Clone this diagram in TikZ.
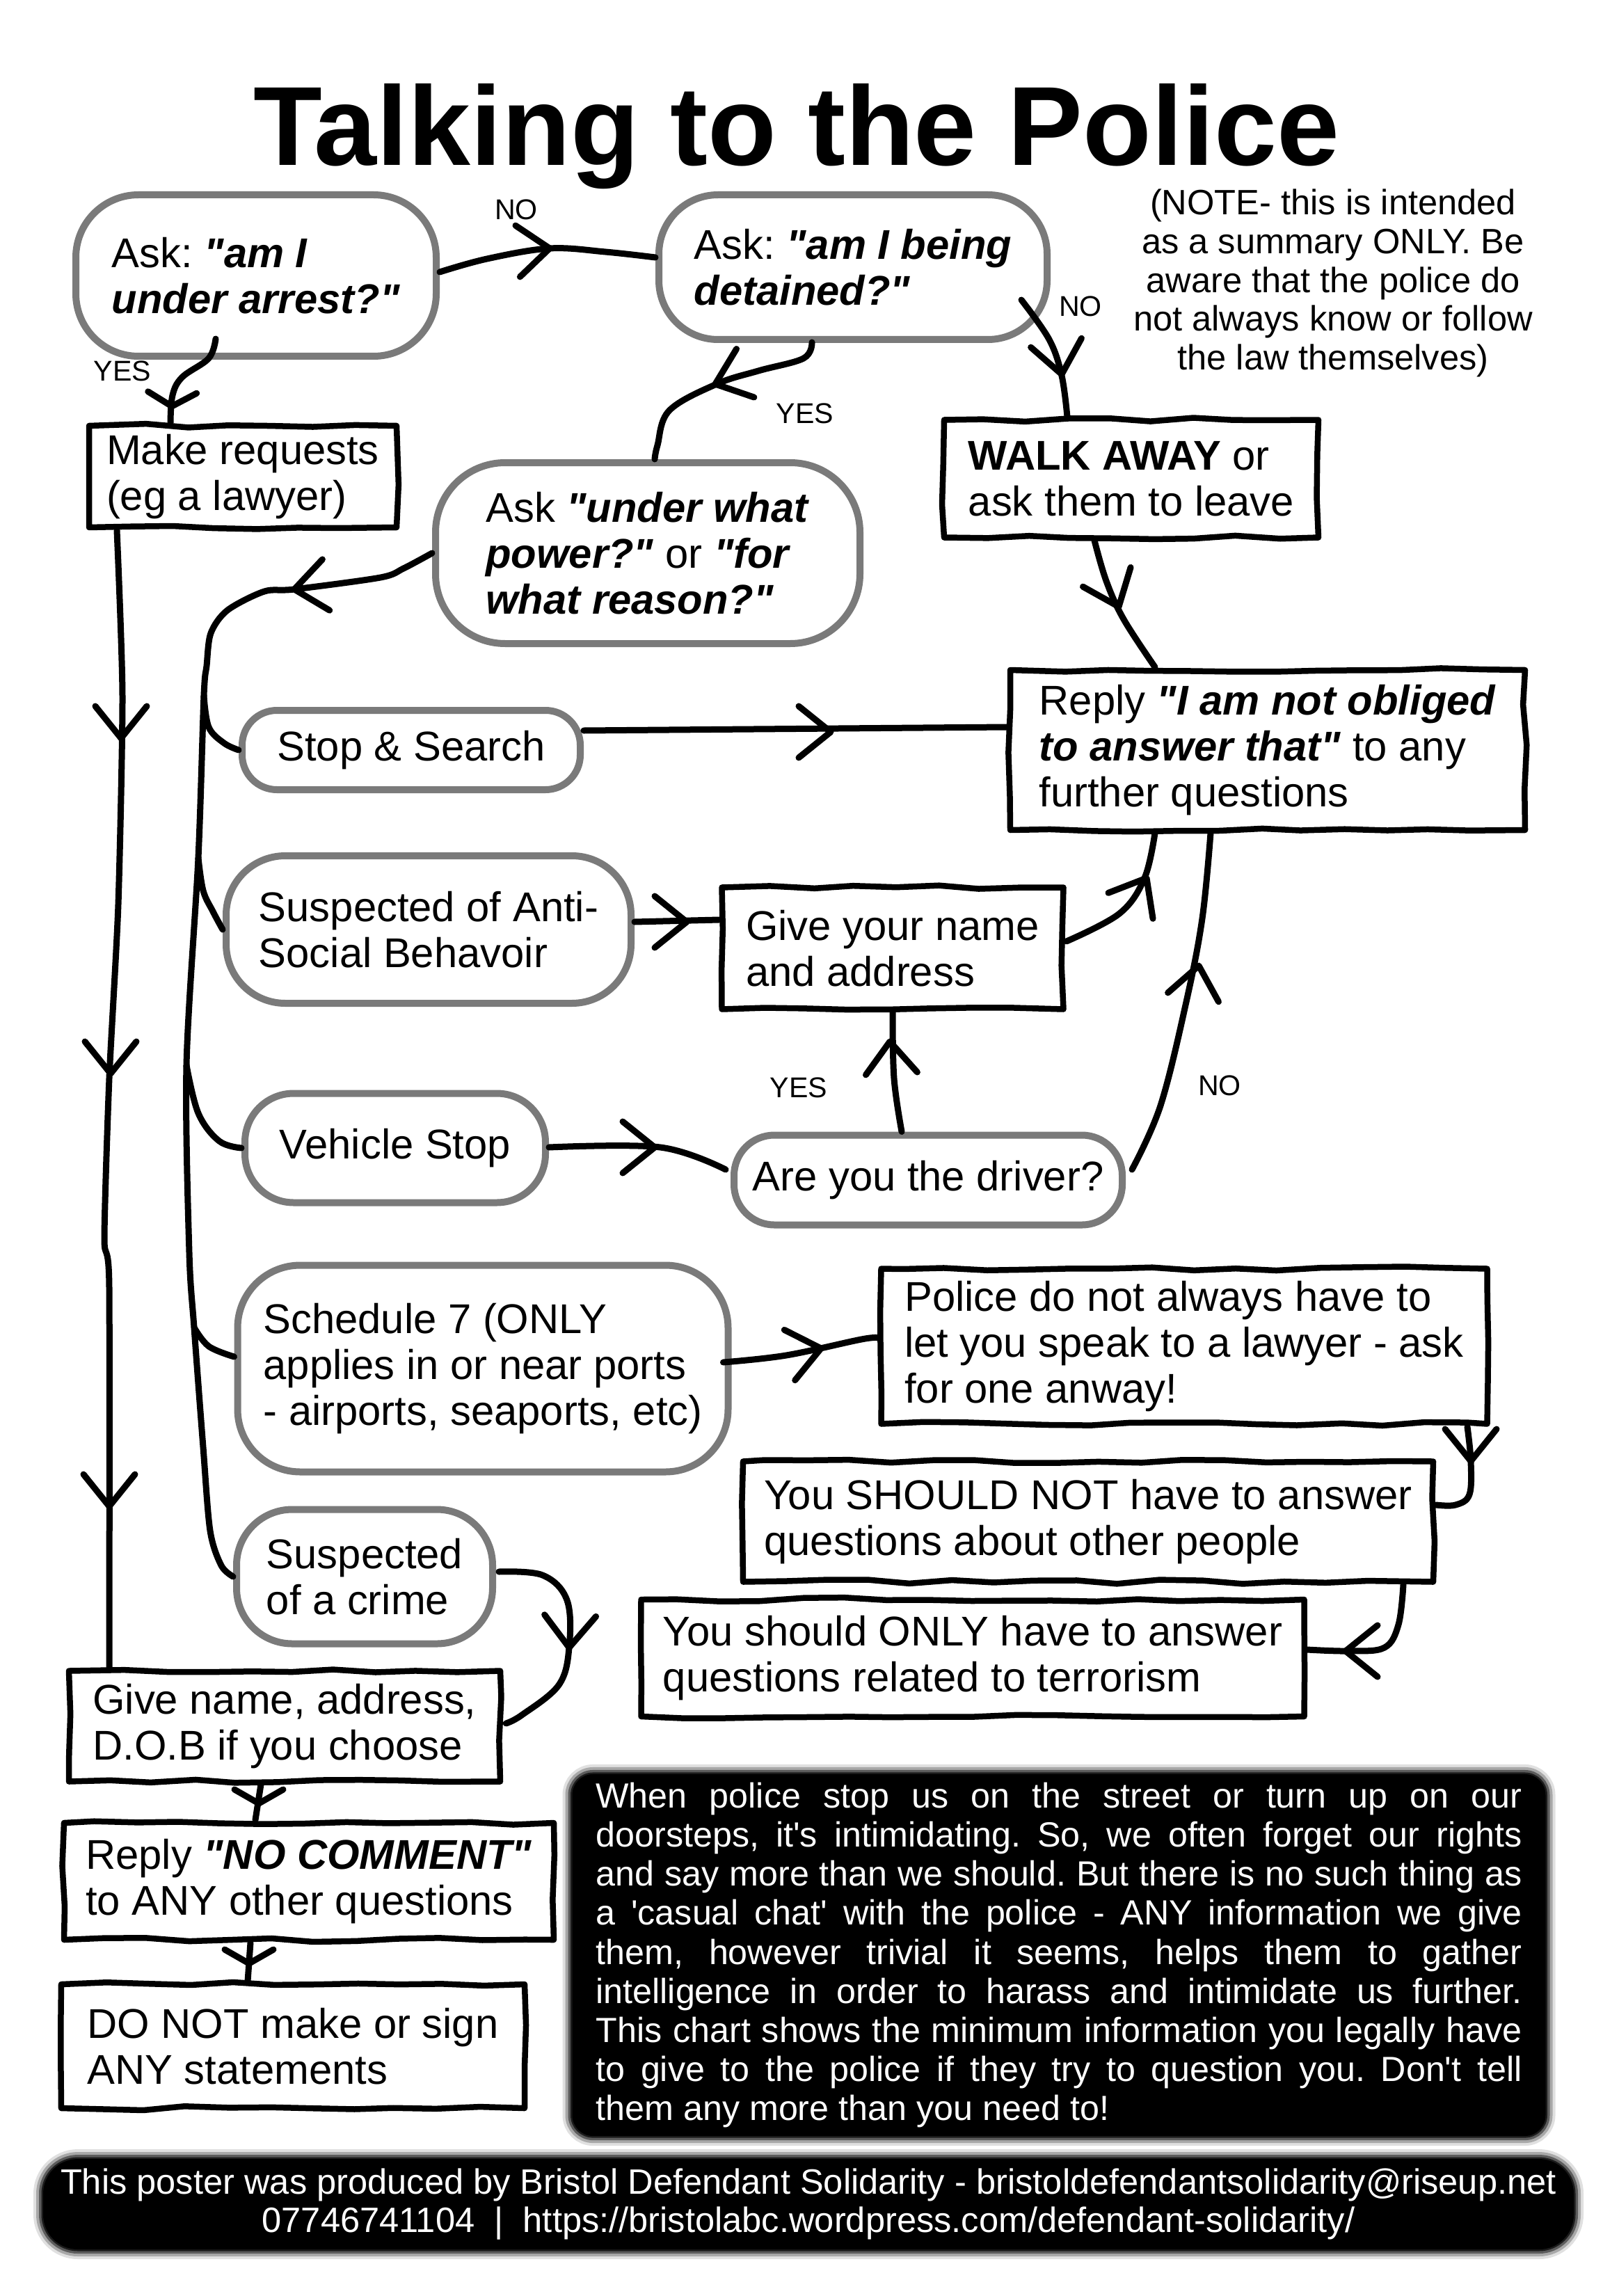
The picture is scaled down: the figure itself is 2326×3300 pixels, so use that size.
\documentclass[tikz,border=0pt]{standalone}
\usepackage{fontspec}
\setmainfont{Liberation Sans}[Ligatures=TeXOff]
\usetikzlibrary{decorations.pathmorphing,calc}
\tikzset{
  chevron/.pic={\draw[line width=0.9mm,line cap=round,line join=round] (-4.6mm,3.7mm) -- (0,0) -- (-4.6mm,-3.7mm);},
  chevsmall/.pic={\draw[line width=0.9mm,line cap=round,line join=round] (-2mm,3.5mm) -- (0,0) -- (-2mm,-3.5mm);},
}
\begin{document}
\frenchspacing
\begin{tikzpicture}[x=0.1mm,y=-0.1mm,
  conn/.style={draw=black,line width=0.9mm,line cap=round,line join=round},
  txt/.style={font=\fontsize{17pt}{18.8pt}\selectfont,align=left,inner sep=0.5mm},
  boxn/.style={txt,draw=black,fill=white,line width=0.85mm,line join=round,decorate,decoration={random steps,segment length=6mm,amplitude=0.3mm}},
  blobn/.style={txt,draw=black!52,fill=white,line width=1mm,rounded corners=#1},
  lbl/.style={font=\fontsize{11.7pt}{13pt}\selectfont,inner sep=0pt},
  darkbox/.style={fill=black,text=white,rounded corners=3mm,
    preaction={draw=black,line width=2.8mm,draw opacity=0.12},
    preaction={draw=black,line width=2.0mm,draw opacity=0.25},
    preaction={draw=black,line width=1.2mm,draw opacity=0.45},
    preaction={draw=black,line width=0.5mm,draw opacity=0.7}},
  ]
\pgfmathsetseed{3}
\useasboundingbox (0,0) rectangle (2326,3300);

% title and note
\node[anchor=base,font=\fontsize{46pt}{50pt}\selectfont\bfseries,inner sep=0pt] (title) at (1145,238) {Talking to the Police};
\node[font=\fontsize{14.4pt}{15.9pt}\selectfont,align=center,inner sep=0pt] (note) at (1916,407)
  {(NOTE- this is intended\\as a summary ONLY. Be\\aware that the police do\\not always know or follow\\the law themselves)};

% blob nodes
\node[blobn=9mm,minimum width=51.8mm,minimum height=23.2mm] (A) at (368,396) {Ask: \textbf{\textit{"am I}}\\\textbf{\textit{under arrest?"}}};
\node[blobn=8.5mm,minimum width=55.8mm,minimum height=20.8mm] (B) at (1226,384) {Ask: \textbf{\textit{"am I being}}\\\textbf{\textit{detained?"}}};
\node[blobn=10mm,minimum width=61mm,minimum height=26mm] (D) at (931,795) {Ask \textbf{\textit{"under what}}\\\textbf{\textit{power?"}} or \textbf{\textit{"for}}\\\textbf{\textit{what reason?"}}};
\node[blobn=5mm,minimum width=48.6mm,minimum height=11.4mm] (G) at (591,1078) {Stop \& Search};
\node[blobn=8.5mm,minimum width=58.2mm,minimum height=21.2mm] (H) at (616,1336) {Suspected of Anti-\\Social Behavoir};
\node[blobn=7mm,minimum width=43.2mm,minimum height=15.7mm] (J) at (568,1650) {Vehicle Stop};
\node[blobn=5.8mm,minimum width=55.8mm,minimum height=12.9mm] (K) at (1334,1696) {Are you the driver?};
\node[blobn=9mm,minimum width=70.5mm,minimum height=29.7mm] (L) at (694,1967) {Schedule 7 (ONLY\\applies in or near ports\\- airports, seaports, etc)};
\node[blobn=8mm,minimum width=36.8mm,minimum height=19.3mm] (P) at (524,2266) {Suspected\\of a crime};

% box nodes
\node[boxn,minimum width=44.2mm,minimum height=14.6mm] (C) at (349,685) {Make requests\\(eg a lawyer)};
\node[boxn,minimum width=53.8mm,minimum height=16.9mm] (E) at (1626,688) {\textbf{WALK AWAY} or\\ask them to leave};
\node[boxn,minimum width=74mm,minimum height=23mm] (F) at (1822,1078) {Reply \textbf{\textit{"I am not obliged}}\\\textbf{\textit{to answer that"}} to any\\further questions};
\node[boxn,minimum width=49.1mm,minimum height=17.5mm] (I) at (1283,1363) {Give your name\\and address};
\node[boxn,minimum width=87.1mm,minimum height=22.3mm] (M) at (1702,1935) {Police do not always have to\\let you speak to a lawyer - ask\\for one anway!};
\node[boxn,minimum width=99.2mm,minimum height=17.3mm] (N) at (1564,2187) {You SHOULD NOT have to answer\\questions about other people};
\node[boxn,minimum width=95.3mm,minimum height=16.8mm] (O) at (1398,2383) {You should ONLY have to answer\\questions related to terrorism};
\node[boxn,minimum width=62mm,minimum height=15.9mm] (Q) at (409,2481) {Give name, address,\\D.O.B if you choose};
\node[boxn,minimum width=70.4mm,minimum height=16.8mm] (R) at (444,2704) {Reply \textbf{\textit{"NO COMMENT"}}\\to ANY other questions};
\node[boxn,minimum width=66.6mm,minimum height=17.8mm] (S) at (421,2941) {DO NOT make or sign\\ANY statements};

% labels
\node[lbl] (no1) at (742,301) {NO};
\node[lbl] (yes1) at (176,533) {YES};
\node[lbl] (yes2) at (1157,594) {YES};
\node[lbl] (no2) at (1553,440) {NO};
\node[lbl] (yes3) at (1148,1563) {YES};
\node[lbl] (no3) at (1753,1560) {NO};

% spine coordinates
\coordinate (s1) at (293,1000);
\coordinate (s2) at (285,1233);
\coordinate (s3) at (268,1531);
\coordinate (s4) at (279,1908);

% connectors
\draw[conn] plot[smooth,tension=0.6] coordinates {($(A.east)+(0,-5)$) (700,372) (790,357) (870,362) ($(B.west)+(0,-14)$)};
\draw[conn] plot[smooth,tension=0.6] coordinates {($(A.south)+(-58,-30)$) (300,515) (262,542) (248,568) ($(C.north)+(-104,0)$)};
\draw[conn] plot[smooth,tension=0.6] coordinates {($(B.south)+(-59,-1)$) (1155,515) (1090,533) (1030,552) (962,590) (945,640) ($(D.north)+(10,0)$)};
\draw[conn] plot[smooth,tension=0.6] coordinates {($(B.east)+(-42,47)$) (1508,488) (1526,540) ($(E.north)+(-92,0)$)};
\draw[conn] plot[smooth,tension=0.6] coordinates {($(E.south)+(-53,0)$) (1590,835) (1615,890) ($(F.north)+(-162,0)$)};
\draw[conn] plot[smooth,tension=0.5] coordinates {(D.west) (580,817) (547,830) (423,847) (380,850) (327,877) (303,910) (297,957) (s1) (s2) (s3) (272,1800) (s4) (292,2080) (302,2200) (318,2250) (P.west)};
\draw[conn] plot[smooth,tension=0.6] coordinates {(s1) (300,1045) (322,1068) (G.west)};
\draw[conn] plot[smooth,tension=0.6] coordinates {(s2) (292,1280) (306,1310) (H.west)};
\draw[conn] plot[smooth,tension=0.6] coordinates {(s3) (285,1600) (315,1640) (J.west)};
\draw[conn] plot[smooth,tension=0.6] coordinates {(s4) (300,1935) ($(L.west)+(0,-17)$)};
\draw[conn] ($(G.east)+(0,-28)$) -- ($(F.west)+(0,-33)$);
\draw[conn] ($(H.east)+(0,-11)$) -- ($(I.west)+(0,-41)$);
\draw[conn] plot[smooth,tension=0.6] coordinates {($(I.east)+(0,-10)$) (1609,1313) (1645,1262) ($(F.south)+(-162,0)$)};
\draw[conn] plot[smooth,tension=0.6] coordinates {($(J.east)+(0,-1)$) (949,1649) ($(K.west)+(-7,-15)$)};
\draw[conn] plot[smooth,tension=0.6] coordinates {($(K.north)+(-38,0)$) (1285,1550) (I.south)};
\draw[conn] plot[smooth,tension=0.6] coordinates {($(K.east)+(9,-15)$) (1668,1589) (1705,1440) (1728,1320) ($(F.south)+(-82,0)$)};
\draw[conn] plot[smooth,tension=0.6] coordinates {($(L.east)+(-12,-9)$) (1130,1948) (1238,1925) ($(M.west)+(0,-12)$)};
\draw[conn] plot[smooth,tension=0.6] coordinates {($(M.south)+(407,0)$) (2114,2100) (2112,2148) (2092,2163) ($(N.east)+(0,-24)$)};
\draw[conn] plot[smooth,tension=0.6] coordinates {($(N.south)+(453,0)$) (2010,2335) (1990,2368) (1940,2373) ($(O.east)+(0,-12)$)};
\draw[conn] plot[smooth,tension=0.6] coordinates {($(P.east)+(4,-7)$) (780,2264) (815,2300) (818,2368) (803,2422) (750,2465) ($(Q.east)+(4,-4)$)};
\draw[conn] plot[smooth,tension=0.4] coordinates {($(C.south)+(-181,0)$) (176,1000) (170,1300) (157,1550) (150,1780) (157,1850) ($(Q.north)+(-252,0)$)};
\draw[conn] ($(Q.south)+(-34,0)$) -- ($(R.north)+(-77,0)$);
\draw[conn] ($(R.south)+(-84,0)$) -- ($(S.north)+(-65,0)$);

% arrowheads
\path (790,357) pic[rotate=5]{chevron};
\path (247,584) pic[rotate=-92]{chevsmall};
\path (1028,552) pic[rotate=200]{chevron};
\path (1526,538) pic[rotate=-80]{chevron};
\path (1608,872) pic[rotate=-68]{chevron};
\path (423,847) pic[rotate=188]{chevron};
\path (1194,1052) pic[rotate=0]{chevron};
\path (987,1325) pic[rotate=0]{chevron};
\path (1648,1262) pic[rotate=60]{chevron};
\path (941,1649) pic[rotate=0]{chevron};
\path (1279,1497) pic[rotate=93]{chevron};
\path (1723,1388) pic[rotate=80]{chevron};
\path (1180,1938) pic[rotate=12]{chevron};
\path (2114,2100) pic[rotate=-90]{chevron};
\path (1934,2373) pic[rotate=180]{chevron};
\path (818,2368) pic[rotate=-92]{chevron};
\path (174,1061) pic[rotate=-90]{chevron};
\path (159,1543) pic[rotate=-90]{chevron};
\path (157,2165) pic[rotate=-90]{chevron};
\path (372,2592) pic[rotate=-90]{chevsmall};
\path (358,2822) pic[rotate=-90]{chevsmall};

% black text box
\node[darkbox,font=\fontsize{14.3pt}{16pt}\selectfont,align=justify,text width=133.1mm,inner xsep=3.4mm,minimum height=51.5mm] (T) at (1522,2810)
  {When police stop us on the street or turn up on our\linebreak
   doorsteps, it's intimidating. So, we often forget our rights\linebreak
   and say more than we should. But there is no such thing as\linebreak
   a 'casual chat' with the police - ANY information we give\linebreak
   them, however trivial it seems, helps them to gather\linebreak
   intelligence in order to harass and intimidate us further.\linebreak
   This chart shows the minimum information you legally have\linebreak
   to give to the police if they try to question you. Don't tell\linebreak
   them any more than you need to!};

% footer
\node[darkbox,rounded corners=5mm,font=\fontsize{14.4pt}{15.6pt}\selectfont,align=center,minimum width=220mm,minimum height=13mm,inner sep=0pt] (U) at (1162,3168)
  {This poster was produced by Bristol Defendant Solidarity - bristoldefendantsolidarity@riseup.net\\
   07746741104\ \ |\ \ https://bristolabc.wordpress.com/defendant-solidarity/};
\end{tikzpicture}
\end{document}
